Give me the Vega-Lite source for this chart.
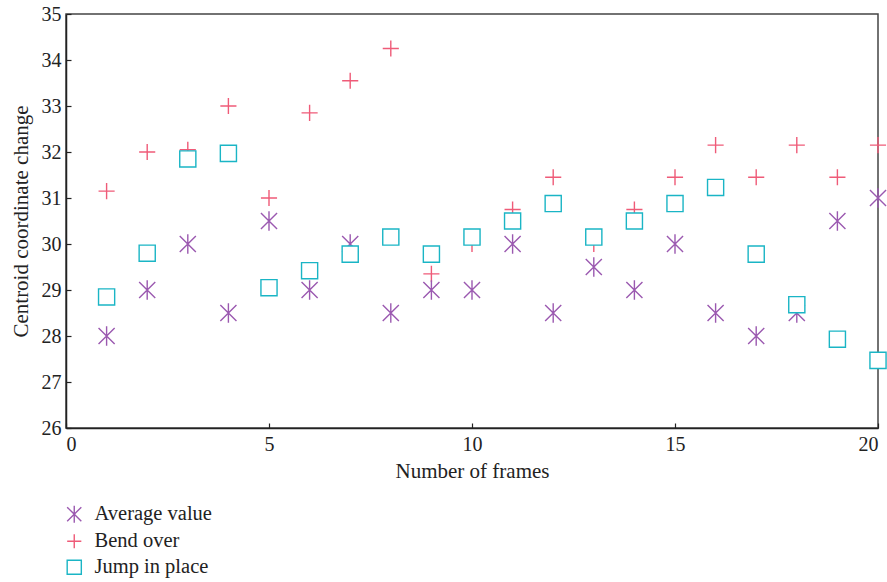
{
  "$schema": "https://vega.github.io/schema/vega-lite/v6.json",
  "autosize": {"type": "none"},
  "padding": {"left": 66, "top": 14, "right": 9, "bottom": 154},
  "width": 812,
  "height": 414,
  "background": "white",
  "config": {
    "font": "Liberation Serif",
    "view": {"stroke": "#444", "strokeWidth": 1.5},
    "axis": {
      "grid": false,
      "domainColor": "#222",
      "domainWidth": 1.5,
      "tickColor": "#222",
      "tickSize": -5,
      "tickWidth": 1.2,
      "labelFont": "Liberation Serif",
      "labelFontSize": 20,
      "labelColor": "#222",
      "titleFont": "Liberation Serif",
      "titleFontSize": 21,
      "titleFontWeight": "normal",
      "titleColor": "#222"
    },
    "legend": {
      "labelFont": "Liberation Serif",
      "labelFontSize": 20.5,
      "labelColor": "#222",
      "labelOffset": 10,
      "symbolStrokeWidth": 1.4,
      "symbolSize": 200,
      "rowPadding": 5
    }
  },
  "data": {
    "values": [
      {"frame": 1, "series": "Bend over", "value": 31.15},
      {"frame": 2, "series": "Bend over", "value": 32.0},
      {"frame": 3, "series": "Bend over", "value": 32.05},
      {"frame": 4, "series": "Bend over", "value": 33.0},
      {"frame": 5, "series": "Bend over", "value": 31.0},
      {"frame": 6, "series": "Bend over", "value": 32.85},
      {"frame": 7, "series": "Bend over", "value": 33.55},
      {"frame": 8, "series": "Bend over", "value": 34.25},
      {"frame": 9, "series": "Bend over", "value": 29.35},
      {"frame": 10, "series": "Bend over", "value": 30.0},
      {"frame": 11, "series": "Bend over", "value": 30.75},
      {"frame": 12, "series": "Bend over", "value": 31.45},
      {"frame": 13, "series": "Bend over", "value": 30.0},
      {"frame": 14, "series": "Bend over", "value": 30.75},
      {"frame": 15, "series": "Bend over", "value": 31.45},
      {"frame": 16, "series": "Bend over", "value": 32.15},
      {"frame": 17, "series": "Bend over", "value": 31.45},
      {"frame": 18, "series": "Bend over", "value": 32.15},
      {"frame": 19, "series": "Bend over", "value": 31.45},
      {"frame": 20, "series": "Bend over", "value": 32.15},
      {"frame": 1, "series": "Average value", "value": 28.0},
      {"frame": 2, "series": "Average value", "value": 29.0},
      {"frame": 3, "series": "Average value", "value": 30.0},
      {"frame": 4, "series": "Average value", "value": 28.5},
      {"frame": 5, "series": "Average value", "value": 30.5},
      {"frame": 6, "series": "Average value", "value": 29.0},
      {"frame": 7, "series": "Average value", "value": 30.0},
      {"frame": 8, "series": "Average value", "value": 28.5},
      {"frame": 9, "series": "Average value", "value": 29.0},
      {"frame": 10, "series": "Average value", "value": 29.0},
      {"frame": 11, "series": "Average value", "value": 30.0},
      {"frame": 12, "series": "Average value", "value": 28.5},
      {"frame": 13, "series": "Average value", "value": 29.5},
      {"frame": 14, "series": "Average value", "value": 29.0},
      {"frame": 15, "series": "Average value", "value": 30.0},
      {"frame": 16, "series": "Average value", "value": 28.5},
      {"frame": 17, "series": "Average value", "value": 28.0},
      {"frame": 18, "series": "Average value", "value": 28.5},
      {"frame": 19, "series": "Average value", "value": 30.5},
      {"frame": 20, "series": "Average value", "value": 31.0},
      {"frame": 1, "series": "Jump in place", "value": 28.85},
      {"frame": 2, "series": "Jump in place", "value": 29.8},
      {"frame": 3, "series": "Jump in place", "value": 31.85},
      {"frame": 4, "series": "Jump in place", "value": 31.97},
      {"frame": 5, "series": "Jump in place", "value": 29.05},
      {"frame": 6, "series": "Jump in place", "value": 29.42},
      {"frame": 7, "series": "Jump in place", "value": 29.78},
      {"frame": 8, "series": "Jump in place", "value": 30.15},
      {"frame": 9, "series": "Jump in place", "value": 29.78},
      {"frame": 10, "series": "Jump in place", "value": 30.15},
      {"frame": 11, "series": "Jump in place", "value": 30.5},
      {"frame": 12, "series": "Jump in place", "value": 30.88},
      {"frame": 13, "series": "Jump in place", "value": 30.15},
      {"frame": 14, "series": "Jump in place", "value": 30.5},
      {"frame": 15, "series": "Jump in place", "value": 30.88},
      {"frame": 16, "series": "Jump in place", "value": 31.23},
      {"frame": 17, "series": "Jump in place", "value": 29.78},
      {"frame": 18, "series": "Jump in place", "value": 28.68},
      {"frame": 19, "series": "Jump in place", "value": 27.93},
      {"frame": 20, "series": "Jump in place", "value": 27.47}
    ]
  },
  "mark": {"type": "point", "fill": "white", "fillOpacity": 1, "opacity": 1, "strokeWidth": 1.4, "size": 260, "clip": false},
  "encoding": {
    "x": {
      "field": "frame", "type": "quantitative",
      "scale": {"domain": [0, 20], "nice": false, "zero": false},
      "axis": {"values": [0, 5, 10, 15, 20], "title": "Number of frames", "labelPadding": 11, "titlePadding": 6}
    },
    "y": {
      "field": "value", "type": "quantitative",
      "scale": {"domain": [26, 35], "nice": false, "zero": false},
      "axis": {"values": [26, 27, 28, 29, 30, 31, 32, 33, 34, 35], "title": "Centroid coordinate change", "labelPadding": 10, "titlePadding": 10}
    },
    "stroke": {
      "field": "series", "type": "nominal",
      "scale": {"domain": ["Average value", "Bend over", "Jump in place"], "range": ["#9b59b0", "#ef5b78", "#1ab5c5"]},
      "legend": {"title": null, "orient": "none", "legendX": -2, "legendY": 490, "direction": "vertical"}
    },
    "shape": {
      "field": "series", "type": "nominal",
      "scale": {"domain": ["Average value", "Bend over", "Jump in place"], "range": ["M-1,-1L1,1M-1,1L1,-1M0,-1.2V1.2", "M-1,0H1M0,-1V1", "square"]}
    }
  }
}
